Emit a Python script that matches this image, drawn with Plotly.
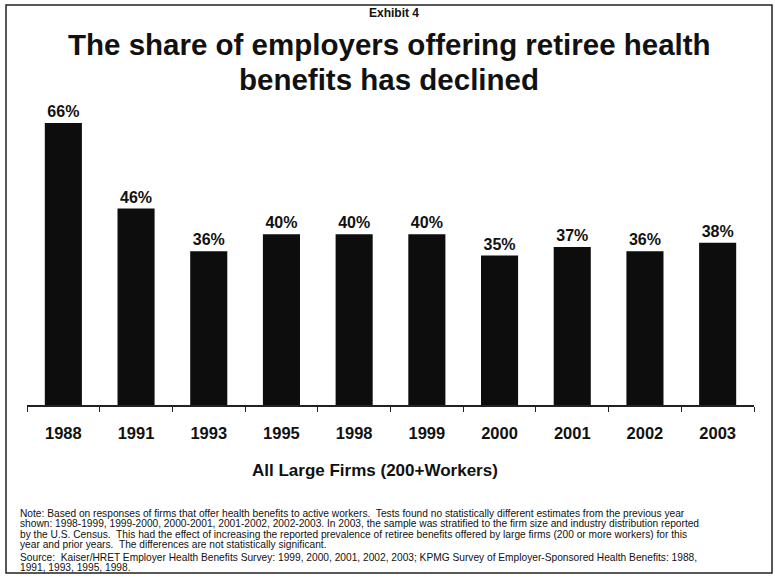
import plotly.graph_objects as go

years = ['1988', '1991', '1993', '1995', '1998', '1999', '2000', '2001', '2002', '2003']
share = [66, 46, 36, 40, 40, 40, 35, 37, 36, 38]
labels = [f"{v}%" for v in share]

note_lines = [
    "Note: Based on responses of firms that offer health benefits to active workers.  Tests found no statistically different estimates from the previous year",
    "shown: 1998-1999, 1999-2000, 2000-2001, 2001-2002, 2002-2003. In 2003, the sample was stratified to the firm size and industry distribution reported",
    "by the U.S. Census.  This had the effect of increasing the reported prevalence of retiree benefits offered by large firms (200 or more workers) for this",
    "year and prior years.  The differences are not statistically significant.",
]
source_lines = [
    "Source:  Kaiser/HRET Employer Health Benefits Survey: 1999, 2000, 2001, 2002, 2003; KPMG Survey of Employer-Sponsored Health Benefits: 1988,",
    "1991, 1993, 1995, 1998.",
]

W, H = 775, 577
L, R, T, B = 27, 754, 106, 405
FONT = 'Liberation Sans, Arial, sans-serif'


def px_x(x):
    return (x - L) / (R - L)


def px_y(y):
    return (B - y) / (B - T)


fig = go.Figure()
fig.add_trace(go.Bar(
    x=years, y=share, text=labels, textposition='outside', cliponaxis=False,
    marker=dict(color='#0d0d0d', line=dict(width=0)),
    textfont=dict(family=FONT, size=16, color='#111', weight='bold'),
))

ann = [
    dict(text="<b>Exhibit 4</b>", x=px_x(394), y=px_y(13), font=dict(size=12)),
    dict(text="<b>The share of employers offering retiree health</b>", x=px_x(389), y=px_y(45), font=dict(size=29.5)),
    dict(text="<b>benefits has declined</b>", x=px_x(389), y=px_y(79), font=dict(size=29.5)),
    dict(text="<b>All Large Firms (200+Workers)</b>", x=px_x(375), y=px_y(470), font=dict(size=17)),
]
for i, line in enumerate(note_lines):
    ann.append(dict(text=line, x=px_x(18), y=px_y(513 + 10.6 * i), xanchor='left', font=dict(size=10.2)))
for i, line in enumerate(source_lines):
    ann.append(dict(text=line, x=px_x(18), y=px_y(557 + 10.6 * i), xanchor='left', font=dict(size=10.2)))
for a in ann:
    a.setdefault('xanchor', 'center')
    a.update(xref='paper', yref='paper', yanchor='middle', showarrow=False)
    a['font'].update(family=FONT, color='#111')

fig.update_layout(
    width=W, height=H, template='plotly_white',
    plot_bgcolor='white', paper_bgcolor='white',
    margin=dict(l=L, r=W - R, t=T, b=H - B),
    bargap=0.49, showlegend=False,
    annotations=ann,
    shapes=[dict(type='rect', xref='paper', yref='paper',
                 x0=px_x(6), x1=px_x(772), y0=px_y(573), y1=px_y(5),
                 line=dict(color='#222', width=1.5))],
    xaxis=dict(showline=True, linecolor='#222', linewidth=1.5, ticks='outside',
               tickson='boundaries', ticklen=5, tickcolor='#222', showgrid=False,
               ticklabelstandoff=12,
               tickfont=dict(family=FONT, size=16.5, color='#111', weight='bold')),
    yaxis=dict(range=[0, 70], visible=False, showgrid=False),
)

# page default body margin would push the figure 8px in and add scrollbars
fig.write_html("out.html", config={'displayModeBar': False},
               post_script="document.body.style.margin = '0px';")
